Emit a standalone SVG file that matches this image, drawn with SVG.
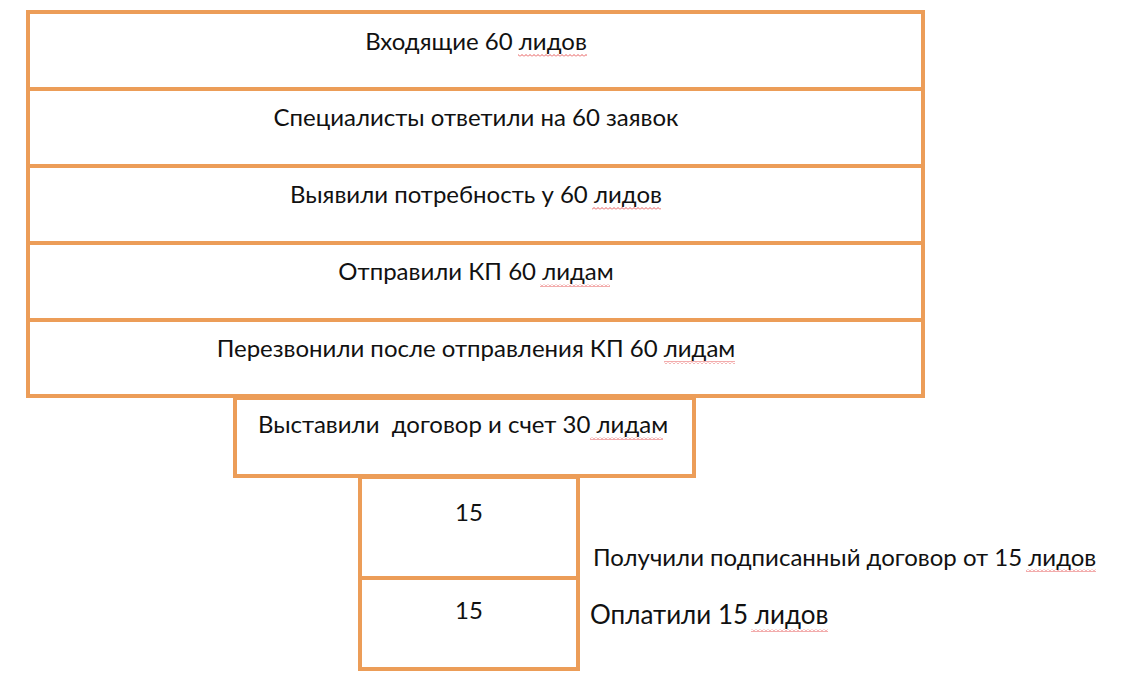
<svg xmlns="http://www.w3.org/2000/svg" width="1127" height="689" viewBox="0 0 1127 689">
<defs>
<style>
.box{fill:#fff;stroke:#EC9D58;stroke-width:4}
.t{font-family:Lato,"Liberation Sans",sans-serif;font-size:24px;fill:#111;text-anchor:middle;dominant-baseline:central}
.r{font-family:Lato,"Liberation Sans",sans-serif;font-size:24px;fill:#111;dominant-baseline:central}
.big{font-size:26px}
.sp{fill:url(#wave)}
</style>
<pattern id="wave" width="4" height="3" patternUnits="userSpaceOnUse">
<path d="M0,2.5 L2,0.5 L4,2.5" fill="none" stroke="#E03030" stroke-width="0.8"/>
</pattern>
</defs>
<rect width="1127" height="689" fill="#fff"/>
<g id="row1"><rect class="box" x="28" y="12" width="895" height="77"/><text class="t" x="476" y="40">Входящие 60 лидов</text><rect class="sp" x="518" y="54" width="69" height="3"/></g>
<g id="row2"><rect class="box" x="28" y="89" width="895" height="77"/><text class="t" x="476" y="116">Специалисты ответили на 60 заявок</text></g>
<g id="row3"><rect class="box" x="28" y="166" width="895" height="77"/><text class="t" x="476" y="193">Выявили потребность у 60 лидов</text><rect class="sp" x="592" y="207" width="69" height="3"/></g>
<g id="row4"><rect class="box" x="28" y="243" width="895" height="77"/><text class="t" x="476" y="270">Отправили КП 60 лидам</text><rect class="sp" x="540" y="284" width="70" height="3"/></g>
<g id="row5"><rect class="box" x="28" y="320" width="895" height="76"/><text class="t" x="476" y="347">Перезвонили после отправления КП 60 лидам</text><rect class="sp" x="664" y="361" width="71" height="3"/></g>
<g id="contract"><rect class="box" x="235" y="398" width="459" height="78"/><text class="t" x="463" y="423" xml:space="preserve">Выставили  договор и счет 30 лидам</text><rect class="sp" x="590" y="437" width="73" height="3"/></g>
<g id="signed"><rect class="box" x="360" y="477" width="218" height="101"/><text class="t" x="469" y="511">15</text></g>
<g id="paid"><rect class="box" x="360" y="578" width="218" height="91"/><text class="t" x="469" y="609">15</text></g>
<g id="labels">
<text class="r" x="593" y="556">Получили подписанный договор от 15 лидов</text><rect class="sp" x="1026" y="569" width="70" height="3"/>
<text class="r big" x="590" y="614">Оплатили 15 лидов</text><rect class="sp" x="751" y="629" width="77" height="3"/>
</g>
</svg>
